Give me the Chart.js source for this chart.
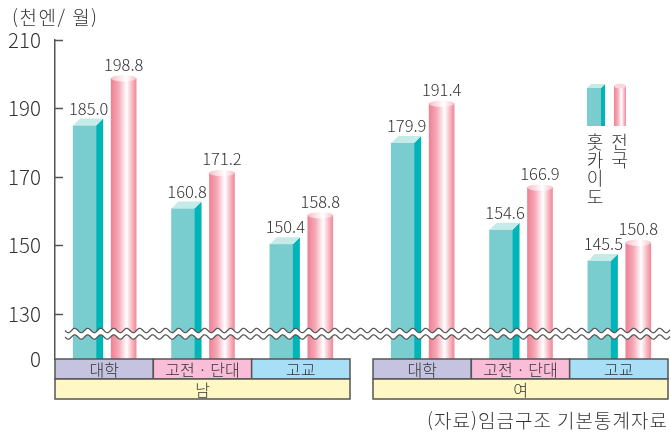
<!DOCTYPE html>
<html lang="ko">
<head>
<meta charset="utf-8">
<script src="https://cdn.jsdelivr.net/npm/chart.js@4"></script>
<style>
  html, body { margin: 0; padding: 0; background: #fff; }
  canvas { display: block; }
</style>
</head>
<body>
<canvas id="myChart" width="671" height="434" style="width:671px;height:434px"></canvas>
<script>
// values in 천엔/월
const categories = ['대학', '고전 · 단대', '고교'];
const groups = ['남', '여'];
const seriesNames = ['홋카이도', '전국'];
const hokkaido = [185.0, 160.8, 150.4, 179.9, 154.6, 145.5];
const national = [198.8, 171.2, 158.8, 191.4, 166.9, 150.8];
const yTicks = [130, 150, 170, 190, 210];

const FONT = "'Noto Sans CJK KR', 'Noto Sans', sans-serif";
const Y_MIN = 116.86;      // value at the bottom of the broken axis (shown as 0)
const GROUP_GAP = 0.234;   // gap between 남 and 여 blocks, in slot units
const BAR_SHIFT = 0.198;   // offset of each bar from its slot centre
const DEPTH = 7;

const catColors = ['#c6c3e1', '#f9bdd8', '#a9def7'];
const groupColor = '#fff8c4';
const lineColor = '#555';
const textColor = '#333';

function slotX(i) {
  return i + 0.5 + (i >= categories.length ? GROUP_GAP : 0);
}

function pinkGradient(ctx, x, half) {
  const g = ctx.createLinearGradient(x - half, 0, x + half, 0);
  g.addColorStop(0, '#ee8294');
  g.addColorStop(0.3, '#f5a9b6');
  g.addColorStop(0.62, '#ffffff');
  g.addColorStop(0.85, '#f7b4bf');
  g.addColorStop(1, '#f08a9a');
  return g;
}

const decorations = {
  id: 'decorations',
  afterDatasetsDraw(chart) {
    const ctx = chart.ctx;
    const area = chart.chartArea;
    const xs = chart.scales.x;
    const ys = chart.scales.y;

    // teal boxes: side and top faces
    chart.getDatasetMeta(0).data.forEach(function(bar) {
      const p = bar.getProps(['x', 'y', 'width'], true);
      const base = area.bottom;
      const l = p.x - p.width / 2, r = p.x + p.width / 2;
      ctx.fillStyle = '#00b4b7';
      ctx.beginPath();
      ctx.moveTo(r, p.y); ctx.lineTo(r + DEPTH, p.y - DEPTH);
      ctx.lineTo(r + DEPTH, base); ctx.lineTo(r, base);
      ctx.closePath(); ctx.fill();
      ctx.fillStyle = '#c5ebe8';
      ctx.beginPath();
      ctx.moveTo(l, p.y); ctx.lineTo(l + DEPTH, p.y - DEPTH);
      ctx.lineTo(r + DEPTH, p.y - DEPTH); ctx.lineTo(r, p.y);
      ctx.closePath(); ctx.fill();
    });

    // pink cylinders: top ellipse
    chart.getDatasetMeta(1).data.forEach(function(bar) {
      const p = bar.getProps(['x', 'y', 'width'], true);
      const g = ctx.createLinearGradient(p.x - p.width / 2, 0, p.x + p.width / 2, 0);
      g.addColorStop(0, '#f7c0ca');
      g.addColorStop(0.6, '#ffffff');
      g.addColorStop(1, '#f7c0ca');
      ctx.fillStyle = g;
      ctx.beginPath();
      ctx.ellipse(p.x, p.y, p.width / 2, 3.2, 0, 0, Math.PI * 2);
      ctx.fill();
    });

    // value labels
    ctx.fillStyle = textColor;
    ctx.font = '300 16.5px ' + FONT;
    ctx.textAlign = 'center';
    ctx.textBaseline = 'middle';
    chart.getDatasetMeta(0).data.forEach(function(bar, i) {
      const p = bar.getProps(['x', 'y'], true);
      ctx.fillText(hokkaido[i].toFixed(1), p.x + 4, p.y - 17);
    });
    chart.getDatasetMeta(1).data.forEach(function(bar, i) {
      const p = bar.getProps(['x', 'y'], true);
      ctx.fillText(national[i].toFixed(1), p.x, p.y - 14);
    });

    // axis break
    const y0 = ys.getPixelForValue(130) + 16.5;
    const y1 = y0 + 6.5;
    const x0 = area.left + 10, x1 = chart.width - 1;
    const amp = 2.2, period = 13;
    function wave(x) { return amp * Math.sin(2 * Math.PI * (x - x0) / period); }
    ctx.fillStyle = '#fff';
    ctx.beginPath();
    for (let x = x0; x <= x1; x++) ctx.lineTo(x, y0 + wave(x));
    for (let x = x1; x >= x0; x--) ctx.lineTo(x, y1 + wave(x));
    ctx.closePath();
    ctx.fill();
    ctx.strokeStyle = lineColor;
    ctx.lineWidth = 1.2;
    [y0, y1].forEach(function(yy) {
      ctx.beginPath();
      for (let x = x0; x <= x1; x++) {
        if (x === x0) ctx.moveTo(x, yy + wave(x)); else ctx.lineTo(x, yy + wave(x));
      }
      ctx.stroke();
    });

    // inward tick marks
    ctx.lineWidth = 1.5;
    yTicks.forEach(function(v) {
      const py = Math.round(ys.getPixelForValue(v)) + 0.5;
      ctx.beginPath();
      ctx.moveTo(area.left, py);
      ctx.lineTo(area.left + 8, py);
      ctx.stroke();
    });

    // category boxes
    const rowH = 20;
    const top = area.bottom;
    ctx.lineWidth = 1.5;
    ctx.font = '300 16px ' + FONT;
    groups.forEach(function(gname, g) {
      const first = g * categories.length;
      const last = first + categories.length - 1;
      const gl = xs.getPixelForValue(slotX(first) - 0.5);
      const gr = xs.getPixelForValue(slotX(last) + 0.5);
      categories.forEach(function(cname, c) {
        const i = first + c;
        const l = xs.getPixelForValue(slotX(i) - 0.5);
        const r = xs.getPixelForValue(slotX(i) + 0.5);
        ctx.fillStyle = catColors[c];
        ctx.fillRect(l, top, r - l, rowH);
        ctx.strokeRect(l, top, r - l, rowH);
        ctx.fillStyle = textColor;
        ctx.fillText(cname, (l + r) / 2, top + rowH / 2 + 1);
      });
      ctx.fillStyle = groupColor;
      ctx.fillRect(gl, top + rowH, gr - gl, rowH);
      ctx.strokeRect(gl, top + rowH, gr - gl, rowH);
      ctx.fillStyle = textColor;
      ctx.fillText(gname, (gl + gr) / 2, top + rowH * 1.5 + 1);
    });

    // legend
    ctx.fillStyle = '#7acdcf';
    ctx.fillRect(587, 88, 14, 38);
    ctx.fillStyle = '#00b4b7';
    ctx.beginPath();
    ctx.moveTo(601, 88); ctx.lineTo(605, 84); ctx.lineTo(605, 126); ctx.lineTo(601, 126);
    ctx.closePath(); ctx.fill();
    ctx.fillStyle = '#c5ebe8';
    ctx.beginPath();
    ctx.moveTo(587, 88); ctx.lineTo(591, 84); ctx.lineTo(605, 84); ctx.lineTo(601, 88);
    ctx.closePath(); ctx.fill();
    ctx.fillStyle = pinkGradient(ctx, 620, 6);
    ctx.fillRect(614, 86, 12, 40);
    ctx.fillStyle = '#fbd6dc';
    ctx.beginPath();
    ctx.ellipse(620, 86, 6, 2.5, 0, 0, Math.PI * 2);
    ctx.fill();

    ctx.fillStyle = textColor;
    ctx.font = '300 18px ' + FONT;
    [...seriesNames[0]].forEach(function(ch, k) {
      ctx.fillText(ch, 595, 142 + k * 18.3);
    });
    [...seriesNames[1]].forEach(function(ch, k) {
      ctx.fillText(ch, 619.5, 142 + k * 18.3);
    });

    // unit and source
    ctx.font = '300 19px ' + FONT;
    ctx.textAlign = 'left';
    ctx.letterSpacing = '1.5px';
    ctx.fillText('(천엔/ 월)', 12, 18);
    ctx.textAlign = 'right';
    ctx.letterSpacing = '1px';
    ctx.fillText('(자료)임금구조 기본통계자료', 668, 421);
    ctx.letterSpacing = '0px';
  }
};

const data = {
  datasets: [{
    label: seriesNames[0],
    data: hokkaido.map(function(v, i) { return { x: slotX(i) - BAR_SHIFT, y: v }; }),
    backgroundColor: '#7acdcf',
    barThickness: 23,
    grouped: false
  }, {
    label: seriesNames[1],
    data: national.map(function(v, i) { return { x: slotX(i) + BAR_SHIFT, y: v }; }),
    backgroundColor: function(c) {
      const chart = c.chart;
      if (!chart.chartArea || c.type !== 'data') return '#f4a7b3';
      const x = chart.scales.x.getPixelForValue(c.raw.x);
      return pinkGradient(chart.ctx, x, 12.5);
    },
    barThickness: 25,
    grouped: false
  }]
};

const config = {
  type: 'bar',
  data: data,
  options: {
    responsive: false,
    animation: false,
    layout: { padding: { left: 0, top: 40, right: 3, bottom: 75 } },
    plugins: { legend: { display: false }, tooltip: { enabled: false } },
    scales: {
      x: {
        type: 'linear',
        display: false,
        offset: false,
        min: 0,
        max: categories.length * groups.length + GROUP_GAP
      },
      y: {
        beginAtZero: false,
        min: Y_MIN,
        max: 210,
        afterBuildTicks: function(scale) {
          scale.ticks = [{ value: Y_MIN }].concat(yTicks.map(function(v) { return { value: v }; }));
        },
        afterFit: function(scale) { scale.width = 55; },
        grid: { display: false },
        border: { display: true, color: lineColor, width: 1.5 },
        ticks: {
          padding: 6,
          color: textColor,
          font: { family: FONT, size: 20.5, weight: '300' },
          callback: function(v) { return v === Y_MIN ? '0' : v; }
        }
      }
    }
  },
  plugins: [decorations]
};

new Chart(document.getElementById('myChart').getContext('2d'), config);
</script>
</body>
</html>
